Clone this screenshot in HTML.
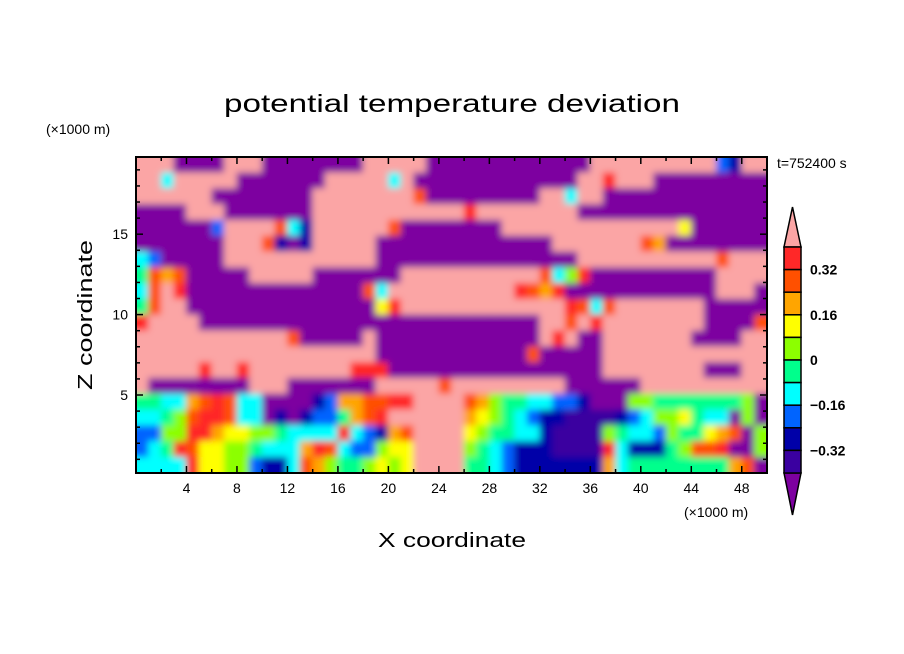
<!DOCTYPE html>
<html><head><meta charset="utf-8"><style>
html,body{margin:0;padding:0;background:#fff;}
svg{display:block;font-family:"Liberation Sans",sans-serif;}
</style></head><body>
<svg id="chart" width="904" height="654" viewBox="0 0 904 654">
<defs>
<clipPath id="pclip"><rect x="136" y="157" width="631" height="316"/></clipPath>
<filter id="soft" x="-0.05" y="-0.05" width="1.1" height="1.1"><feGaussianBlur stdDeviation="3.5"/></filter>
</defs>
<text x="452" y="112" text-anchor="middle" font-size="25" textLength="456" lengthAdjust="spacingAndGlyphs">potential temperature deviation</text>
<text x="46" y="134" font-size="14">(×1000 m)</text>
<text x="777" y="168" font-size="14">t=752400 s</text>
<text x="452" y="547" text-anchor="middle" font-size="20" textLength="148" lengthAdjust="spacingAndGlyphs">X coordinate</text>
<text transform="translate(92,315) rotate(-90)" text-anchor="middle" font-size="20" textLength="150" lengthAdjust="spacingAndGlyphs">Z coordinate</text>
<text x="684" y="517" font-size="14">(×1000 m)</text>
<g id="field" clip-path="url(#pclip)"></g>
<g id="axes"></g>
<g id="cbar"></g>
</svg>
<script>
// grid of contour levels (rows from top z=19.8 to bottom z=0.15), 50 columns across x=0..50
const rowsData = [
"PPPVVVVPPPVVVVVVVVPPPPPVVVVVVVVVVVVVPPPPPPPPPP21PP",
"PP3PPPPPVVVVVVVPPPPP3PVVVVVVVVVVVVVPP9PPPVVVVVVVVV",
"PPPPPPVVVVVVVVPPPPPPPP8VVVVVVVVVPP3PPVVVVVVVVVVVVV",
"VVVVPPPVVVVVVVPPPPPPPPPPPP9PPPPPPPPVVVVVVVVVVVVVVV",
"VVVVVV2PPPP831PPPPPP8VVVVVVVVPPPPPPPPPPPPPP6VVVVVV",
"VVVVVVVPPP81V1PPPPPVVVVVVVVVVVVVVPPPPPPP87VVVVVVVV",
"32VVVVVPPPPPPPPPPPPVVVVVVVVVVVVVVVVPPPPPPPPPPP8PPP",
"4878VVVVVPPPPPVVVVVVVPPPPPPPPPPP8359VVVVVVVVVVPPPP",
"38P9VVVVVVVVVVVVVV83PPPPPPPPPP9879VVVVVVVVVVVVPPPV",
"48PPVVVVVVVVVVVVVVV69PPPPPPPPPPPPP9838PPPPPPPVVVVV",
"9PPPPVVVVVVVVVVVVVVVVVVVVVVVVVVVPP8P9PPPPPPPPVVVV8",
"PPPPPPPPPPPP8VVVVVPVVVVVVVVVVVVVP9PVVPPPPPPPVVVVPP",
"PPPPPPPPPPPPPPPPPPPVVVVVVVVVVVV8VVVVVPPPPPPPPPPPPP",
"PPPPP9PP9PPPPPPPP999VVVVVVVVVVVVVVVVVPPPPPPPPVVVPP",
"PVVVVVVVVPPPVVVVVVVPPPPP8PPPPPPPPPVVVVVVPPPPPPPPPP",
"4433789833VVVV12778899PPPP8754433221VVV5544444445V",
"3345899833V1V1224789PPPPPP765432110000123556433V5V",
"2255997665543333932178PPPP6544331000054332544678V5",
"2349866554333798322566PPPP543211100009311145889VV5",
"3333966552113875445656PPPP44321111111734444444478V5"
];
const levelChars = ["V","0","1","2","3","4","5","6","7","8","9","P"];
const levelColors = ["#7d00a0","#3a00a0","#0000a8","#0064ff","#00ffff","#00ff8c","#8cff00","#ffff00","#ffa500","#ff5000","#ff2828","#fba5a5"];
const cbLabels = ["0.32","0.16","0","\u22120.16","\u22120.32"];
const xTickVals = [4,8,12,16,20,24,28,32,36,40,44,48];
const zTickVals = [5,10,15];

const NS="http://www.w3.org/2000/svg";
const PX0=136,PX1=767,PY0=157,PY1=473,XMIN=0,XMAX=50,ZMIN=0.15,ZMAX=19.8;
function xs(v){return PX0+(v-XMIN)/(XMAX-XMIN)*(PX1-PX0);}
function zs(v){return PY1-(v-ZMIN)/(ZMAX-ZMIN)*(PY1-PY0);}
function mk(tag,attrs,parent){const e=document.createElementNS(NS,tag);for(const k in attrs)e.setAttribute(k,attrs[k]);parent.appendChild(e);return e;}

const field=document.getElementById('field');
const blur=mk('g',{filter:'url(#soft)'},field);
const nr=rowsData.length, nc=50;
for(let r=0;r<nr;r++){
  const row=rowsData[r];
  for(let c=0;c<nc;c++){
    const ch=row[c]||row[row.length-1];
    const li=levelChars.indexOf(ch);
    const zt=ZMAX-(ZMAX-ZMIN)*r/nr, zb=ZMAX-(ZMAX-ZMIN)*(r+1)/nr;
    const x0=xs(c*XMAX/nc), x1=xs((c+1)*XMAX/nc);
    let ex0=0,ex1=0,ey0=0,ey1=0;
    if(c===0)ex0=8; if(c===nc-1)ex1=8; if(r===0)ey0=8; if(r===nr-1)ey1=8;
    const cell=mk('rect',{x:x0-0.3-ex0,y:zs(zt)-0.3-ey0,width:x1-x0+0.6+ex0+ex1,height:zs(zb)-zs(zt)+0.6+ey0+ey1,fill:levelColors[li<0?11:li]},blur);
    
    
  }
}

const axes=document.getElementById('axes');
mk('rect',{x:PX0,y:PY0,width:PX1-PX0,height:PY1-PY0,fill:'none',stroke:'#000','stroke-width':2},axes);
for(let v=2;v<50;v+=2){
  const L=(v%4===0)?7:4;
  mk('line',{x1:xs(v),x2:xs(v),y1:PY1,y2:PY1-L,stroke:'#000','stroke-width':1.5},axes);
  mk('line',{x1:xs(v),x2:xs(v),y1:PY0,y2:PY0+L,stroke:'#000','stroke-width':1.5},axes);
}
for(let v=1;v<20;v++){
  const L=(v%5===0)?7:4;
  mk('line',{x1:PX0,x2:PX0+L,y1:zs(v),y2:zs(v),stroke:'#000','stroke-width':1.5},axes);
  mk('line',{x1:PX1,x2:PX1-L,y1:zs(v),y2:zs(v),stroke:'#000','stroke-width':1.5},axes);
}
xTickVals.forEach(v=>{
  const t=mk('text',{x:xs(v),y:PY1+20,'text-anchor':'middle','font-size':14},axes);
  t.textContent=v;
  
  
});
zTickVals.forEach(v=>{
  const t=mk('text',{x:PX0-8,y:zs(v)+5,'text-anchor':'end','font-size':14},axes);
  t.textContent=v;
  
  
});

const cb=document.getElementById('cbar');
const CX0=784,CX1=801,CY0=247,CY1=473,nb=10,bh=(CY1-CY0)/nb;
mk('polygon',{points:`${CX0},${CY0} ${CX1},${CY0} ${(CX0+CX1)/2},${CY0-40}`,fill:levelColors[11],stroke:'#000','stroke-width':1.5},cb);
mk('polygon',{points:`${CX0},${CY1} ${CX1},${CY1} ${(CX0+CX1)/2},${CY1+42}`,fill:levelColors[0],stroke:'#000','stroke-width':1.5},cb);
for(let k=0;k<nb;k++){
  const b=mk('rect',{x:CX0,y:CY0+k*bh,width:CX1-CX0,height:bh,fill:levelColors[10-k],stroke:'#000','stroke-width':1.5},cb);
  
  
}
cbLabels.forEach((s,i)=>{
  const t=mk('text',{x:810,y:CY0+(1+2*i)*bh+5,'font-size':14,'font-weight':'bold'},cb);
  t.textContent=s;
  
  
});
</script>
</body></html>
